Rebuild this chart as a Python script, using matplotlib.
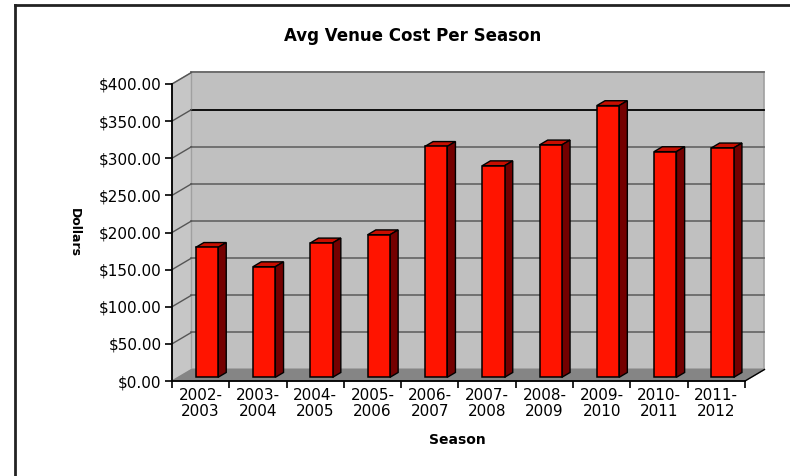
import numpy as np
import matplotlib.pyplot as plt
from matplotlib.patches import Polygon
from matplotlib.lines import Line2D

seasons = ["2002-\n2003", "2003-\n2004", "2004-\n2005", "2005-\n2006", "2006-\n2007",
           "2007-\n2008", "2008-\n2009", "2009-\n2010", "2010-\n2011", "2011-\n2012"]
avg_cost = [175, 149, 181, 192, 311, 285, 313, 366, 304, 309]
y_ticks = [0, 50, 100, 150, 200, 250, 300, 350, 400]

plt.rcParams['font.family'] = 'DejaVu Sans'

fig = plt.figure(figsize=(7.9, 4.76), dpi=100)
ax = fig.add_axes([172/790, 95/476, 573/790, 297/476])
ax.set_facecolor('none')
n = len(seasons)
ax.set_xlim(0, n)
ax.set_ylim(0, 400)

# depth of the fake 3d box, in data units
dx = 0.34
dy = 15.5

# back wall, left wall and floor
back = Polygon([(dx, dy), (n+dx, dy), (n+dx, 400+dy), (dx, 400+dy)],
               closed=True, fc='#c0c0c0', ec='#a0a0a0', lw=1.2, zorder=0.5, clip_on=False)
left = Polygon([(0, 0), (dx, dy), (dx, 400+dy), (0, 400)],
               closed=True, fc='#c6c6c6', ec='#a0a0a0', lw=1.0, zorder=0.5, clip_on=False)
floor = Polygon([(0, 0), (n, 0), (n+dx, dy), (dx, dy)],
                closed=True, fc='#858585', ec='#858585', lw=0.8, zorder=0.7, clip_on=False)
ax.add_patch(back)
ax.add_patch(left)

for v in y_ticks[1:]:
    c = 'black' if v == 350 else '#6a6a6a'
    ax.plot([dx, n+dx], [v+dy, v+dy], color=c, lw=1.3, zorder=0.6, clip_on=False)
    ax.plot([0, dx], [v, v+dy], color='#555555', lw=1.0, zorder=0.6, clip_on=False)
ax.add_patch(floor)
ax.plot([n, n+dx], [0, dy], color='black', lw=1.0, zorder=0.8, clip_on=False)

# bars
f0, f1 = 0.32, 0.74
w = 0.39
base = f0*dy
xs = np.arange(n) + 0.5 + f0*dx
ax.bar(xs, avg_cost, width=w, bottom=base, color='#ff1400', edgecolor='black',
       lw=1.1, zorder=3, clip_on=False)
ddx = (f1-f0)*dx
ddy = (f1-f0)*dy
for x, v in zip(xs, avg_cost):
    xl, xr = x - w/2, x + w/2
    top = v + base
    ax.add_patch(Polygon([(xl, top), (xr, top), (xr+ddx, top+ddy), (xl+ddx, top+ddy)],
                         closed=True, fc='#c80e00', ec='black', lw=1.0, zorder=2.8, clip_on=False))
    ax.add_patch(Polygon([(xr, base), (xr+ddx, base+ddy), (xr+ddx, top+ddy), (xr, top)],
                         closed=True, fc='#740000', ec='black', lw=1.0, zorder=2.8, clip_on=False))

# axes
for s in ['top', 'right']:
    ax.spines[s].set_visible(False)
for s in ['left', 'bottom']:
    ax.spines[s].set_color('black')
    ax.spines[s].set_linewidth(1.3)
    ax.spines[s].set_zorder(4)

ax.set_yticks(y_ticks)
ax.set_yticklabels(['$%.2f' % v for v in y_ticks])
ax.tick_params(axis='y', direction='out', length=5, width=1.2, pad=2.5, labelsize=11)
ax.set_xticks(np.arange(n+1))
ax.set_xticklabels([])
ax.set_xticks(np.arange(n) + 0.5, minor=True)
ax.set_xticklabels(seasons, minor=True, linespacing=1.05)
ax.tick_params(axis='x', which='major', direction='out', length=5, width=1.2)
ax.tick_params(axis='x', which='minor', length=0, pad=5, labelsize=11)

fig.text(413/790, 1-36/476, 'Avg Venue Cost Per Season', ha='center', va='center',
         fontsize=12, fontweight='bold')
fig.text(457/790, 1-440/476, 'Season', ha='center', va='center', fontsize=10, fontweight='bold')
fig.text(74.5/790, 1-233/476, 'Dollars', ha='center', va='center', rotation=270,
         fontsize=9, fontweight='bold')

# page border
fig.add_artist(Line2D([15/790, 1], [1-5/476, 1-5/476], color='#222222', lw=2))
fig.add_artist(Line2D([15/790, 15/790], [0, 1-5/476], color='#222222', lw=2))

fig.savefig('out.png', dpi=100)
